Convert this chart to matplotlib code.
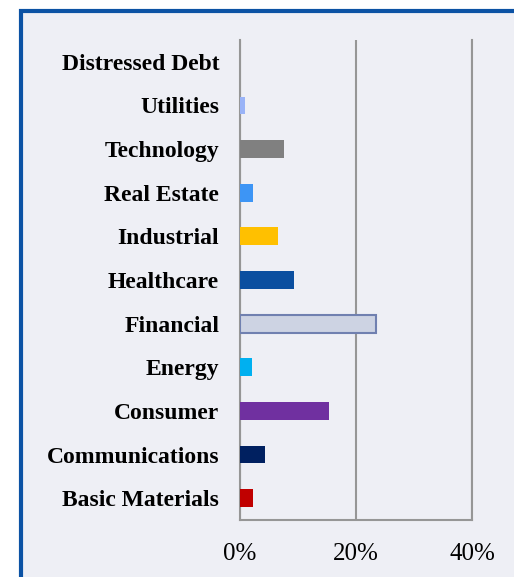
import matplotlib.pyplot as plt
from matplotlib.patches import Rectangle
from matplotlib.ticker import FuncFormatter

# Sector weights (% of portfolio), bottom to top
sectors = ['Basic Materials', 'Communications', 'Consumer', 'Energy',
           'Financial', 'Healthcare', 'Industrial', 'Real Estate',
           'Technology', 'Utilities', 'Distressed Debt']
weights = [2.2, 4.3, 15.3, 2.1, 23.4, 9.3, 6.5, 2.3, 7.6, 0.8, 0.0]
colors = ['#C00000', '#002060', '#7030A0', '#00B0F0', '#CDD3E3',
          '#0B4FA0', '#FFC000', '#3D95F5', '#808080', '#99B3F7', '#99B3F7']
edges = ['none'] * 11
edges[4] = '#7080B0'
x_ticks = [0, 20, 40]

BG = '#EEEFF5'
GRID = '#969696'
FRAME = '#0B52A4'

fig = plt.figure(figsize=(5.14, 5.77), dpi=100, facecolor='white')

# Panel frame (runs off the right / bottom edge of the image)
fig.patches.append(Rectangle((21 / 514, -0.05), 1.05, 1 - 11 / 577 + 0.05,
                             transform=fig.transFigure, facecolor=BG,
                             edgecolor=FRAME, lw=3, zorder=-10))

ax = fig.add_axes([240 / 514, 1 - 520 / 577, 232 / 514, 480 / 577])
ax.set_facecolor('none')

ypos = range(len(sectors))
for y, w, c, e in zip(ypos, weights, colors, edges):
    ax.barh(y, w, height=0.41, color=c, edgecolor=e,
            linewidth=1.5 if e != 'none' else 0, zorder=3)

ax.set_xlim(0, 40)
ax.set_ylim(-0.5, len(sectors) - 0.5)
ax.set_xticks(x_ticks)
ax.xaxis.set_major_formatter(FuncFormatter(lambda v, _: f'{v:.0f}%'))
ax.set_yticks(list(ypos))
ax.set_yticklabels(sectors, fontfamily='Liberation Serif',
                   fontweight='bold', fontsize=17)
for lbl in ax.get_xticklabels():
    lbl.set_fontfamily('Liberation Serif')
    lbl.set_fontsize(18)

ax.tick_params(axis='both', length=0)
ax.tick_params(axis='y', pad=15)
ax.tick_params(axis='x', pad=16.5)

ax.grid(axis='x', color=GRID, lw=1.5, zorder=1)
ax.set_axisbelow(True)
ax.spines['top'].set_visible(False)
for s in ('left', 'right', 'bottom'):
    ax.spines[s].set_color(GRID)
    ax.spines[s].set_linewidth(1.5)

fig.savefig('out.png', dpi=100, facecolor='white')
